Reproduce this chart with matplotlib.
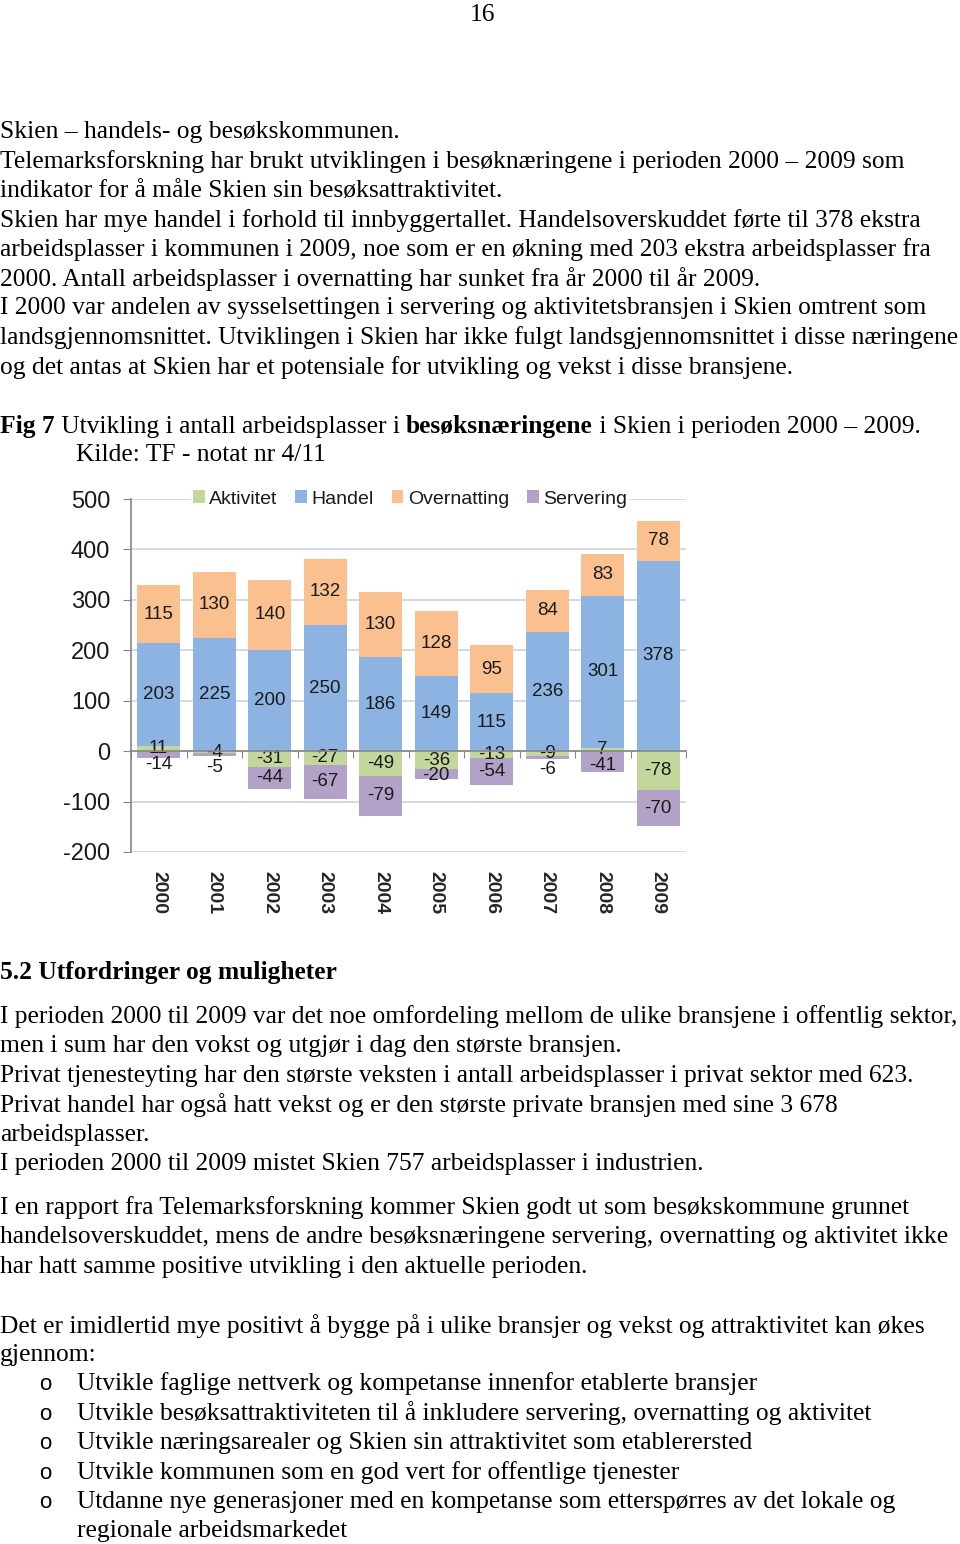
#!/usr/bin/env python3
import matplotlib
matplotlib.use("Agg")
import matplotlib.pyplot as plt
import numpy as np

# chart data
years = ["2000", "2001", "2002", "2003", "2004", "2005", "2006", "2007", "2008", "2009"]
aktivitet = [11, -4, -31, -27, -49, -36, -13, -9, 7, -78]
handel = [203, 225, 200, 250, 186, 149, 115, 236, 301, 378]
overnatting = [115, 130, 140, 132, 130, 128, 95, 84, 83, 78]
servering = [-14, -5, -44, -67, -79, -20, -54, -6, -41, -70]
series_names = ["Aktivitet", "Handel", "Overnatting", "Servering"]
y_ticks = [-200, -100, 0, 100, 200, 300, 400, 500]

# page text
page_no = "16"
intro_lines = [
    "Skien \u2013 handels- og besøkskommunen.",
    "Telemarksforskning har brukt utviklingen i besøknæringene i perioden 2000 \u2013 2009 som",
    "indikator for å måle Skien sin besøksattraktivitet.",
    "Skien har mye handel i forhold til innbyggertallet. Handelsoverskuddet førte til 378 ekstra",
    "arbeidsplasser i kommunen i 2009, noe som er en økning med 203 ekstra arbeidsplasser fra",
    "2000. Antall arbeidsplasser i overnatting har sunket fra år 2000 til år 2009.",
    "I 2000 var andelen av sysselsettingen i servering og aktivitetsbransjen i Skien omtrent som",
    "landsgjennomsnittet. Utviklingen i Skien har ikke fulgt landsgjennomsnittet i disse næringene",
    "og det antas at Skien har et potensiale for utvikling og vekst i disse bransjene.",
]
caption_parts = [
    ("Fig 7", "bold"),
    (" Utvikling i antall arbeidsplasser i ", "normal"),
    ("besøksnæringene", "bold"),
    (" i Skien i perioden 2000 \u2013 2009.", "normal"),
]
source_line = "Kilde: TF - notat nr 4/11"
heading = "5.2 Utfordringer og muligheter"
para1 = [
    "I perioden 2000 til 2009 var det noe omfordeling mellom de ulike bransjene i offentlig sektor,",
    "men i sum har den vokst og utgjør i dag den største bransjen.",
    "Privat tjenesteyting har den største veksten i antall arbeidsplasser i privat sektor med 623.",
    "Privat handel har også hatt vekst og er den største private bransjen med sine 3 678",
    "arbeidsplasser.",
    "I perioden 2000 til 2009 mistet Skien 757 arbeidsplasser i industrien.",
]
para2 = [
    "I en rapport fra Telemarksforskning kommer Skien godt ut som besøkskommune grunnet",
    "handelsoverskuddet, mens de andre besøksnæringene servering, overnatting og aktivitet ikke",
    "har hatt samme positive utvikling i den aktuelle perioden.",
]
para3 = [
    "Det er imidlertid mye positivt å bygge på i ulike bransjer og vekst og attraktivitet kan økes",
    "gjennom:",
]
bullets = [
    "Utvikle faglige nettverk og kompetanse innenfor etablerte bransjer",
    "Utvikle besøksattraktiviteten til å inkludere servering, overnatting og aktivitet",
    "Utvikle næringsarealer og Skien sin attraktivitet som etablerersted",
    "Utvikle kommunen som en god vert for offentlige tjenester",
    "Utdanne nye generasjoner med en kompetanse som etterspørres av det lokale og",
]
bullet_cont = "regionale arbeidsmarkedet"

serif = "Liberation Serif"
sans = "Liberation Sans"
body_fs = 18.4
step = 29.4

fig = plt.figure(figsize=(9.6, 15.44), dpi=100)

# page text layer in pixel coordinates
tax = fig.add_axes([0, 0, 1, 1])
tax.set_xlim(0, 960)
tax.set_ylim(1544, 0)
tax.axis("off")

def put(x, y, s, **kw):
    kw.setdefault("fontsize", body_fs)
    kw.setdefault("family", serif)
    return tax.text(x, y + 2, s, va="center", ha="left", color="black", **kw)

tax.text(483, 15, page_no, ha="center", va="center", family=serif, fontsize=body_fs)

for i, line in enumerate(intro_lines):
    put(0, 130 + i * step, line)

prev = None
for s, w in caption_parts:
    if prev is None:
        prev = tax.text(0, 438, s, fontweight=w, family=serif, fontsize=body_fs,
                        va="bottom", ha="left")
    else:
        prev = tax.annotate(s, xy=(1, 0), xycoords=prev, va="bottom", ha="left",
                            fontweight=w, family=serif, fontsize=body_fs)
put(76, 453, source_line)

put(0, 971, heading, fontweight="bold")
for i, line in enumerate(para1):
    put(0, 1015 + i * step, line)
for i, line in enumerate(para2):
    put(0, 1206 + i * step, line)
for i, line in enumerate(para3):
    put(0, 1324 + i * step, line)
for i, line in enumerate(bullets):
    y = 1382 + i * step
    tax.text(45, y + 3, "o", ha="center", va="center", family=sans, fontsize=16)
    put(77, y, line)
put(77, 1382 + len(bullets) * step, bullet_cont)

# chart
plt.rcParams["font.family"] = [sans, "DejaVu Sans"]
colors = ["#c3d69b", "#8db3e2", "#fac090", "#b3a2c7"]
grid_c = "#c8d3e2"
axis_c = "#868686"
text_c = "#1a1a1a"
lbl_fs = 13.5
lbl_gap = 31  # min distance (data units) between stacked labels near zero

ax = fig.add_axes([131 / 960, 1 - 852 / 1544, 555 / 960, 353 / 1544])
x = np.arange(len(years))
pos = np.zeros(len(years))
neg = np.zeros(len(years))
labels = []
for name, vals, col in zip(series_names, [aktivitet, handel, overnatting, servering], colors):
    vals = np.array(vals, dtype=float)
    bottom = np.where(vals >= 0, pos, neg)
    ax.bar(x, vals, 0.78, bottom=bottom, color=col, label=name, zorder=2)
    for xi, v, b in zip(x, vals, bottom):
        labels.append([xi, b + v / 2, str(int(v))])
    pos = np.where(vals >= 0, pos + vals, pos)
    neg = np.where(vals < 0, neg + vals, neg)

# labels around the zero line get pushed down so they don't collide
for xi in x:
    low = sorted([l for l in labels if l[0] == xi and l[1] < 20], key=lambda l: -l[1])
    for a, b in zip(low[:-1], low[1:]):
        if b[1] > a[1] - lbl_gap:
            b[1] = a[1] - lbl_gap
for xi, yv, s in labels:
    ax.text(xi, yv, s, ha="center", va="center", fontsize=lbl_fs, color=text_c, zorder=3)

ax.set_xlim(-0.5, len(years) - 0.5)
ax.set_ylim(y_ticks[0], y_ticks[-1])
ax.set_yticks(y_ticks)
ax.set_yticklabels([str(t) for t in y_ticks], fontsize=17, color=text_c)
ax.set_xticks(x)
ax.set_xticklabels(years, rotation=270, fontsize=14, fontweight="bold", color="#262626")
ax.tick_params(axis="x", length=0, pad=14)
ax.tick_params(axis="y", direction="out", length=6, color=axis_c, pad=9)
ax.grid(axis="y", color=grid_c, linewidth=1.2, zorder=0)
ax.set_axisbelow(True)
for sp in ["top", "right", "bottom"]:
    ax.spines[sp].set_visible(False)
ax.spines["left"].set_color(axis_c)
ax.spines["left"].set_linewidth(1.2)

# category axis drawn through zero
zero_frac = (0 - y_ticks[0]) / (y_ticks[-1] - y_ticks[0])
sec = ax.secondary_xaxis(zero_frac)
sec.set_xticks(np.arange(-0.5, len(years), 1.0))
sec.set_xticklabels([])
sec.tick_params(direction="out", length=5, color=axis_c)
sec.spines["bottom"].set_color(axis_c)
sec.spines["bottom"].set_linewidth(1.2)
sec.set_zorder(4)

leg = ax.legend(loc="center", bbox_to_anchor=(0.503, 1.0), ncol=4, fontsize=14,
                frameon=True, facecolor="white", edgecolor="none", framealpha=1,
                handlelength=0.6, handleheight=0.6, handletextpad=0.25,
                columnspacing=0.9, borderpad=0.1, fancybox=False)
for t in leg.get_texts():
    t.set_color(text_c)

fig.savefig("out.png", dpi=100)
